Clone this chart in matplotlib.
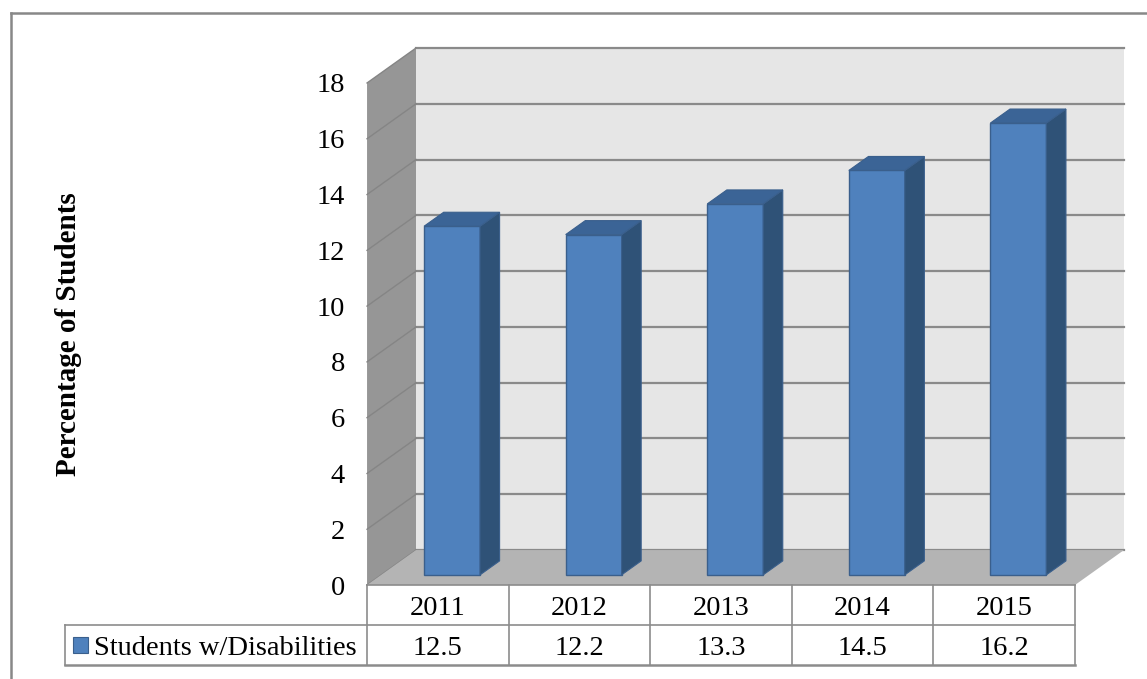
import numpy as np
import matplotlib
matplotlib.use("Agg")
import matplotlib.pyplot as plt
from matplotlib.patches import Polygon, Rectangle

years = ["2011", "2012", "2013", "2014", "2015"]
values = [12.5, 12.2, 13.3, 14.5, 16.2]
series_name = "Students w/Disabilities"
y_label = "Percentage of Students"
y_ticks = list(range(0, 19, 2))

plt.rcParams["font.family"] = ["Liberation Serif", "DejaVu Serif"]
FS = 20.5

fig = plt.figure(figsize=(11.47, 6.79), dpi=100)
ax = fig.add_axes([0.3200, 0.1384, 0.6172, 0.7394])
ax.set_xlim(-0.5, 4.5)
ax.set_ylim(0, 18)

# depth of the fake 3D box, in data units
DX, DY = 0.346, 1.254
x0, x1 = -0.5, 4.5
ymax = 18

wall_c = "#e6e6e6"
side_c = "#969696"
floor_c = "#b4b4b4"
grid_c = "#8a8a8a"

# side wall, back wall, floor
ax.add_patch(Polygon([(x0, 0), (x0, ymax), (x0 + DX, ymax + DY), (x0 + DX, DY)],
                     closed=True, fc=side_c, ec="none", clip_on=False, zorder=1))
ax.add_patch(Rectangle((x0 + DX, DY), x1 - x0, ymax, fc=wall_c, ec="none",
                       clip_on=False, zorder=1))
ax.add_patch(Polygon([(x0, 0), (x1, 0), (x1 + DX, DY), (x0 + DX, DY)],
                     closed=True, fc=floor_c, ec="none", clip_on=False, zorder=2))

for v in y_ticks:
    ax.plot([x0 + DX, x1 + DX], [v + DY, v + DY], color=grid_c, lw=1.6,
            clip_on=False, zorder=1.5)
    ax.plot([x0, x0 + DX], [v, v + DY], color="#858585", lw=1.0,
            clip_on=False, zorder=1.5)

# bars sit in the middle of the depth
f0, f1 = 0.29, 0.69
bw = 0.395
front_c = "#4f81bd"
top_c = "#3b6496"
rside_c = "#2f5277"
edge_c = "#3a5f8c"
for i, v in enumerate(values):
    bx = i - bw / 2 + f0 * DX
    by = f0 * DY
    ddx = (f1 - f0) * DX
    ddy = (f1 - f0) * DY
    ax.bar(bx, v, width=bw, bottom=by, align="edge", color=front_c,
           edgecolor=edge_c, linewidth=1, clip_on=False, zorder=5)
    ax.add_patch(Polygon([(bx + bw, by), (bx + bw, by + v), (bx + bw + ddx, by + v + ddy),
                          (bx + bw + ddx, by + ddy)], closed=True, fc=rside_c,
                         ec=edge_c, lw=0.8, clip_on=False, zorder=5))
    ax.add_patch(Polygon([(bx, by + v), (bx + bw, by + v), (bx + bw + ddx, by + v + ddy),
                          (bx + ddx, by + v + ddy)], closed=True, fc=top_c,
                         ec=edge_c, lw=0.8, clip_on=False, zorder=5))

# y axis
for s in ax.spines.values():
    s.set_visible(False)
ax.patch.set_visible(False)
ax.set_xticks([])
ax.set_yticks(y_ticks)
ax.set_yticklabels([str(t) for t in y_ticks], fontsize=FS, va="center_baseline")
ax.tick_params(axis="y", length=0, pad=16)
ax.yaxis.set_label_coords(-0.422, 0.5)
ax.set_ylabel(y_label, fontsize=21, fontweight="bold", va="center")

# data table below the floor
row_h = 1.434
line_c = "#8c8c8c"
legend_left = -2.633
ax.plot([x0, x1], [0, 0], color=line_c, lw=1.2, clip_on=False, zorder=6)
ax.plot([legend_left, x1], [-row_h, -row_h], color=line_c, lw=1.2, clip_on=False)
ax.plot([legend_left, x1], [-2 * row_h, -2 * row_h], color=line_c, lw=1.8, clip_on=False)
ax.plot([legend_left, legend_left], [-row_h, -2 * row_h], color=line_c, lw=1.2, clip_on=False)
for k in range(len(years) + 1):
    ax.plot([x0 + k, x0 + k], [0, -2 * row_h], color=line_c, lw=1.2, clip_on=False)
for i, (yr, v) in enumerate(zip(years, values)):
    ax.text(i, -row_h / 2, yr, ha="center", va="center_baseline", fontsize=FS)
    ax.text(i, -1.5 * row_h, f"{v:.1f}", ha="center", va="center_baseline", fontsize=FS)
ax.add_patch(Rectangle((legend_left + 0.056, -1.5 * row_h - 0.27), 0.106, 0.54,
                       fc=front_c, ec=edge_c, lw=0.8, clip_on=False))
ax.text(legend_left + 0.205, -1.5 * row_h, series_name, ha="left", va="center_baseline",
        fontsize=FS)

# outer frame
fig.add_artist(plt.Line2D([10.5 / 1147, 10.5 / 1147], [0, 1 - 12.5 / 679],
                          color="#888888", lw=1.8))
fig.add_artist(plt.Line2D([10.5 / 1147, 1], [1 - 12.5 / 679, 1 - 12.5 / 679],
                          color="#888888", lw=1.8))

fig.savefig("out.png", dpi=100)
